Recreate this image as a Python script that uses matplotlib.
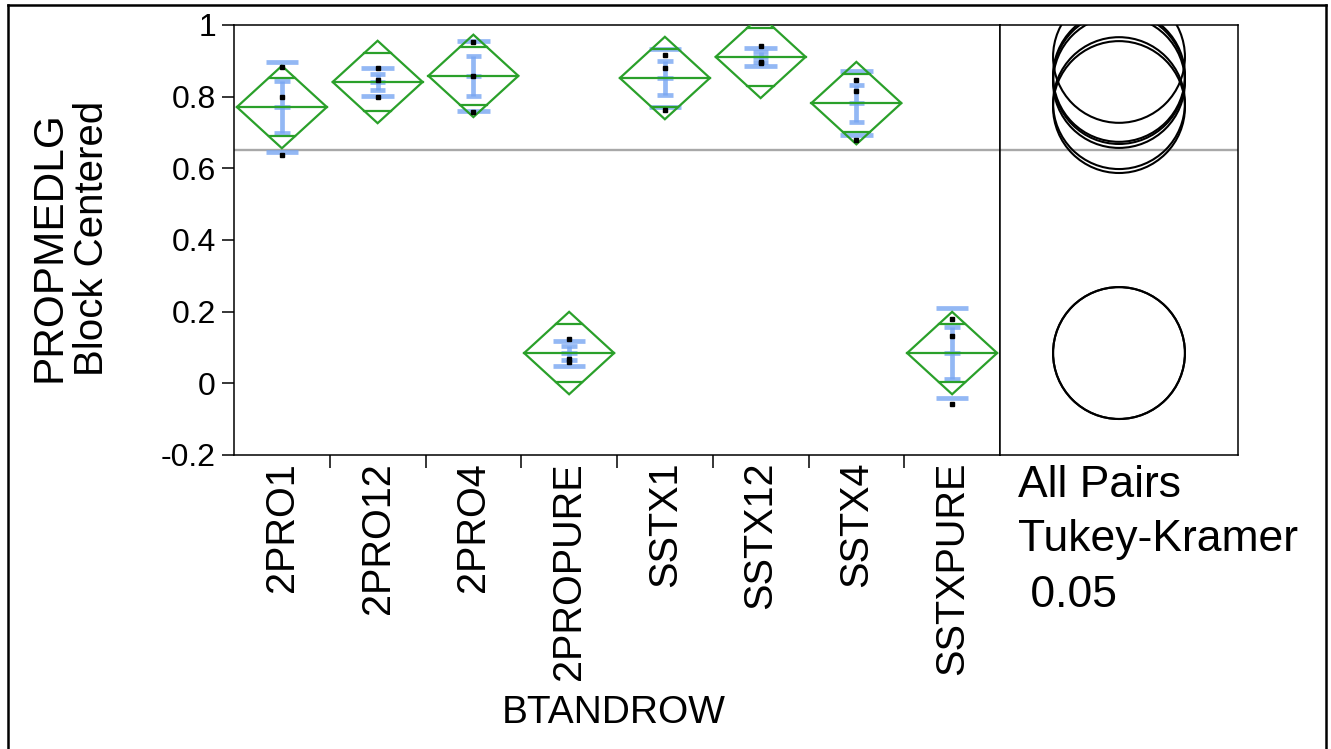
import numpy as np
import matplotlib
matplotlib.use('Agg')
import matplotlib.pyplot as plt
from matplotlib.patches import Polygon, Circle
from matplotlib.lines import Line2D

plt.rcParams['font.family'] = ['Liberation Sans', 'DejaVu Sans']

# ---- data ----
categories = ['2PRO1', '2PRO12', '2PRO4', '2PROPURE', 'SSTX1', 'SSTX12', 'SSTX4', 'SSTXPURE']
group_means = [0.771, 0.841, 0.858, 0.0845, 0.852, 0.911, 0.782, 0.0845]
group_points = [
    [0.883, 0.800, 0.637],
    [0.880, 0.846, 0.800],
    [0.953, 0.858, 0.757],
    [0.124, 0.068, 0.060],
    [0.916, 0.880, 0.763],
    [0.941, 0.897, 0.895],
    [0.846, 0.816, 0.679],
    [0.179, 0.131, -0.058],
]
ci_halfwidth = 0.115          # 95% CI half-width of the means diamonds
grand_mean = 0.65
circle_radius = 0.184         # Tukey-Kramer comparison circle radius
y_ticks = [-0.2, 0, 0.2, 0.4, 0.6, 0.8, 1]
y_tick_labels = ['-0.2', '0', '0.2', '0.4', '0.6', '0.8', '1']
y_limits = (-0.2, 1.0)

# ---- styling ----
W, H = 1331, 749
GREEN = '#2aa02a'
BLUE = '#78a6f2'
GRAY = '#a8a8a8'

fig = plt.figure(figsize=(W / 100, H / 100), dpi=100)

def fx(px):
    return px / W

def fy(py):
    return 1 - py / H

ax_left, ax_right, ax_top, ax_bot = 234, 1000, 25, 455
circ_right = 1238
ax = fig.add_axes([fx(ax_left), fy(ax_bot), fx(ax_right - ax_left), (ax_bot - ax_top) / H])
ax2 = fig.add_axes([fx(ax_right), fy(ax_bot), fx(circ_right - ax_right), (ax_bot - ax_top) / H])

n = len(categories)
ax.set_xlim(0, n)
ax.set_ylim(*y_limits)

ax.axhline(grand_mean, color=GRAY, lw=1.7, zorder=1)

hw = 0.47
ov_frac = np.sqrt(2) / 2
for i, (m, pts) in enumerate(zip(group_means, group_points)):
    xc = i + 0.5
    pts = np.asarray(pts)
    sd = pts.std(ddof=1)
    se = sd / np.sqrt(len(pts))
    # blue error bars (SE bar with caps, SD caps)
    bkw = dict(color=BLUE, lw=3.4, alpha=0.8, solid_capstyle='butt', zorder=2)
    ax.plot([xc, xc], [m - se, m + se], **bkw)
    for yv in (m - se, m + se, m):
        ax.plot([xc - 0.08, xc + 0.08], [yv, yv], **bkw)
    for yv in (m - sd, m + sd):
        ax.plot([xc - 0.17, xc + 0.17], [yv, yv], **bkw)
    # means diamond
    d = Polygon([(xc - hw, m), (xc, m + ci_halfwidth), (xc + hw, m), (xc, m - ci_halfwidth)],
                closed=True, fill=False, ec=GREEN, lw=1.6, zorder=3)
    ax.add_patch(d)
    ax.plot([xc - hw, xc + hw], [m, m], color=GREEN, lw=1.6, zorder=3)
    ov = ci_halfwidth * ov_frac
    ow = hw * (1 - ov_frac)
    for s in (1, -1):
        ax.plot([xc - ow, xc + ow], [m + s * ov] * 2, color=GREEN, lw=1.6, zorder=3)
    # data points
    ax.plot([xc] * len(pts), pts, 's', color='black', ms=2.6, zorder=4)

ax.set_yticks(y_ticks)
ax.set_yticklabels(y_tick_labels, fontsize=23)
ax.set_xticks([i + 0.5 for i in range(n)])
ax.set_xticklabels(categories, rotation=90, fontsize=28.5)
ax.tick_params(axis='x', which='major', length=0, pad=5)
ax.set_xticks(list(range(1, n)), minor=True)
ax.tick_params(axis='x', which='minor', length=9, width=1.1, direction='out')
ax.tick_params(axis='y', length=9, width=1.1, direction='out', pad=4)
for sp in ax.spines.values():
    sp.set_linewidth(1.1)

# x-axis title
fig.text(fx(614), fy(713), 'BTANDROW', fontsize=28, ha='center', va='center')

# comparison circles panel
span = (circ_right - ax_right) / (ax_bot - ax_top) * (y_limits[1] - y_limits[0])
ax2.set_xlim(0, span)
ax2.set_ylim(*y_limits)
ax2.axhline(grand_mean, color=GRAY, lw=1.7, zorder=1)
for m in group_means:
    ax2.add_patch(Circle((span / 2, m), circle_radius, fill=False, ec='black', lw=1.5, zorder=2))
ax2.set_xticks([])
ax2.set_yticks([])
for sp in ax2.spines.values():
    sp.set_linewidth(1.1)

# y-axis labels (two lines)
fig.text(fx(50), fy(247), 'PROPMEDLG', rotation=90,
         fontsize=30.5, ha='center', va='center')
fig.text(fx(92), fy(238), 'Block Centered', rotation=90,
         fontsize=29, ha='center', va='center')

# comparison text
fig.text(fx(1018), fy(497), 'All Pairs', fontsize=32, ha='left', va='baseline')
fig.text(fx(1018), fy(551), 'Tukey-Kramer', fontsize=32, ha='left', va='baseline')
fig.text(fx(1018), fy(607), ' 0.05', fontsize=32, ha='left', va='baseline')

# outer frame
fr = dict(color='black', lw=1.8, transform=fig.transFigure)
fig.add_artist(Line2D([fx(8), fx(8)], [0, fy(5)], **fr))
fig.add_artist(Line2D([fx(8), fx(1326)], [fy(5), fy(5)], **fr))
fig.add_artist(Line2D([fx(1326), fx(1326)], [0, fy(5)], **fr))

fig.savefig('out.png', dpi=100)
